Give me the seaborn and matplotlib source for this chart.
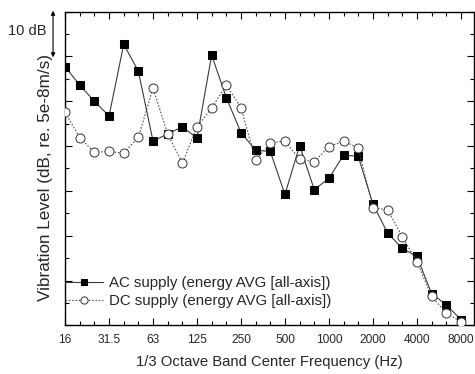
import numpy as np
import pandas as pd
import matplotlib
matplotlib.use("Agg")
import matplotlib.pyplot as plt
import seaborn as sns
from matplotlib.ticker import MultipleLocator

bands = ["16", "20", "25", "31.5", "40", "50", "63", "80", "100", "125", "160", "200",
         "250", "315", "400", "500", "630", "800", "1000", "1250", "1600", "2000",
         "2500", "3150", "4000", "5000", "6300", "8000"]
ac_db = [57.7, 53.6, 50.0, 46.7, 62.7, 56.7, 41.1, 42.7, 44.3, 41.8, 60.3, 50.8,
         43.0, 39.1, 38.8, 29.2, 40.1, 30.3, 32.8, 38.0, 37.7, 27.1,
         20.6, 17.2, 15.4, 7.1, 4.6, 1.3]
dc_db = [47.5, 41.9, 38.6, 38.8, 38.4, 42.0, 52.9, 42.7, 36.2, 44.3, 48.5, 53.6,
         48.6, 36.8, 40.7, 41.1, 37.1, 36.5, 39.9, 41.1, 39.6, 26.2,
         25.8, 19.8, 14.2, 6.5, 2.8, 0.8]
tick_labels = ["16", "31.5", "63", "125", "250", "500", "1000", "2000", "4000", "8000"]
series_names = ["AC supply (energy AVG [all-axis])", "DC supply (energy AVG [all-axis])"]

sns.set_theme(style="ticks")
plt.rcParams["font.family"] = ["Liberation Sans", "DejaVu Sans"]

idx = np.arange(len(bands))
df = pd.DataFrame({"band": idx, "ac": ac_db, "dc": dc_db})

fig = plt.figure(figsize=(4.75, 3.74), dpi=100)
ax = fig.add_axes([0.137, 0.130, 0.861, 0.839])

sns.lineplot(data=df, x="band", y="ac", ax=ax, color="#3a3a3a", lw=0.8,
             marker="s", markersize=5.5, markerfacecolor="black",
             markeredgecolor="black", label=series_names[0], zorder=3)
sns.lineplot(data=df, x="band", y="dc", ax=ax, color="#555555", lw=0.8,
             linestyle=(0, (1.5, 1.5)), marker="o", markersize=6.5,
             markerfacecolor="white", markeredgecolor="#333333",
             markeredgewidth=0.7, label=series_names[1], zorder=4)

ax.set_xlim(0, 27.9)
ax.set_ylim(0, 70)
tick_pos = [bands.index(t) for t in tick_labels]
ax.set_xticks(tick_pos)
ax.set_xticklabels(tick_labels, fontsize=8.6)
ax.xaxis.set_minor_locator(MultipleLocator(1))
ax.yaxis.set_major_locator(MultipleLocator(10))
ax.yaxis.set_minor_locator(MultipleLocator(5))
ax.set_yticklabels([])
ax.tick_params(which="both", direction="in", top=True, right=True, color="black", width=0.8)
ax.tick_params(which="major", length=5, pad=6)
ax.tick_params(which="minor", length=3)
for s in ax.spines.values():
    s.set_color("black")
    s.set_linewidth(1.0)

ax.set_xlabel("1/3 Octave Band Center Frequency (Hz)", fontsize=10.7, labelpad=7)
ax.set_ylabel("Vibration Level (dB, re. 5e-8m/s)", fontsize=12.3)
ax.yaxis.set_label_coords(-0.03, 0.47)

ax.annotate("", xy=(-0.82, 70.2), xytext=(-0.82, 59.8), xycoords="data",
            arrowprops=dict(arrowstyle="<|-|>", color="black", lw=0.8,
                            mutation_scale=6, shrinkA=0, shrinkB=0),
            annotation_clip=False)
ax.text(-1.25, 65.6, "10 dB", ha="right", va="center", fontsize=10.5, clip_on=False)

leg = ax.legend(loc="lower left", bbox_to_anchor=(0.0, 0.054), frameon=False,
                borderaxespad=0, borderpad=0, handlelength=2.5, handletextpad=0.4,
                labelspacing=0.3, fontsize=10.8, markerscale=0.8)

fig.savefig("out.png", dpi=100)
